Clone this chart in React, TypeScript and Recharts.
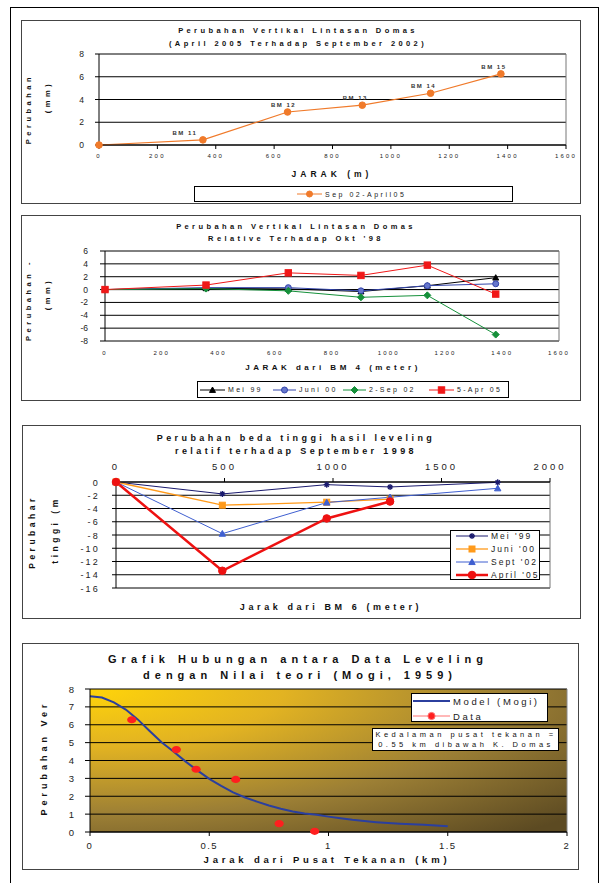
import React from 'react'
import {
  LineChart,
  Line,
  XAxis,
  YAxis,
  CartesianGrid,
  ReferenceLine,
  ComposedChart,
  Scatter,
  LabelList,
} from 'recharts'

const FONT = '"Liberation Sans", Arial, sans-serif'

// --- chart 1 : Sep 02 - April 05
const bmDistance = [0, 356, 646, 902, 1136, 1377]
const bmNames = ['', 'BM 11', 'BM 12', 'BM 13', 'BM 14', 'BM 15']
const sep02Apr05 = [0, 0.45, 2.9, 3.5, 4.55, 6.25]
const jarakTicks = [0, 200, 400, 600, 800, 1000, 1200, 1400, 1600]
const mmTicks1 = [0, 2, 4, 6, 8]

// --- chart 2 : relative to Okt '98
const mei99 = [0, 0.2, 0.1, -0.3, 0.6, 1.85]
const juni00 = [0, 0.3, 0.3, -0.2, 0.6, 0.9]
const sep02 = [0, 0.15, -0.2, -1.2, -0.9, -7.0]
const apr05 = [0, 0.7, 2.6, 2.2, 3.8, -0.7]
const mmTicks2 = [-8, -6, -4, -2, 0, 2, 4, 6]

// --- chart 3 : relative to September 1998
const bm6Distance = [0, 490, 971, 1263, 1759]
const mei99b = [0, -1.8, -0.4, -0.75, -0.05]
const juni00b = [0, -3.5, -3.05, -2.6, null]
const sept02b = [0, -7.8, -3.1, -2.3, -0.95]
const april05b = [0, -13.4, -5.5, -2.95, null]
const bm6Ticks = [0, 500, 1000, 1500, 2000]
const tinggiTicks = [0, -2, -4, -6, -8, -10, -12, -14, -16]

// --- chart 4 : Mogi model vs data
const modelX = [0, 0.05, 0.1, 0.15, 0.2, 0.25, 0.3, 0.35, 0.4, 0.45, 0.5, 0.55, 0.6, 0.65, 0.7, 0.75, 0.8, 0.85, 0.9, 0.95, 1.0, 1.05, 1.1, 1.15, 1.2, 1.25, 1.3, 1.35, 1.4, 1.45, 1.5]
const modelY = [7.59, 7.52, 7.25, 6.85, 6.3, 5.65, 5.02, 4.5, 3.95, 3.45, 2.97, 2.58, 2.22, 1.93, 1.7, 1.48, 1.3, 1.15, 1.04, 0.96, 0.86, 0.77, 0.68, 0.61, 0.55, 0.5, 0.46, 0.43, 0.4, 0.36, 0.32]
const levelX = [0.175, 0.362, 0.445, 0.611, 0.793, 0.942]
const levelY = [6.28, 4.61, 3.51, 2.94, 0.47, 0.04]
const kmTicks = [0, 0.5, 1, 1.5, 2]
const verTicks = [0, 1, 2, 3, 4, 5, 6, 7, 8]

const rows1 = bmDistance.map((x, i) => ({ x, v: sep02Apr05[i], name: bmNames[i] }))
const rows2 = bmDistance.map((x, i) => ({ x, mei: mei99[i], juni: juni00[i], sep: sep02[i], apr: apr05[i] }))
const rows3 = bm6Distance.map((x, i) => ({ x, mei: mei99b[i], juni: juni00b[i], sept: sept02b[i], april: april05b[i] }))
const modelRows = modelX.map((x, i) => ({ x, y: modelY[i] }))
const levelRows = levelX.map((x, i) => ({ x, y: levelY[i] }))

type Shape = 'circle' | 'square' | 'triangle' | 'diamond' | 'star'

function Marker({ cx, cy, shape, color, r, fill }: { cx: number; cy: number; shape: Shape; color: string; r: number; fill?: string }) {
  const f = fill ?? color
  if (shape === 'square') return <rect x={cx - r} y={cy - r} width={r * 2} height={r * 2} fill={f} stroke={color} />
  if (shape === 'triangle')
    return <path d={`M${cx},${cy - r} L${cx + r},${cy + r * 0.8} L${cx - r},${cy + r * 0.8} Z`} fill={f} stroke={color} />
  if (shape === 'diamond')
    return <path d={`M${cx},${cy - r} L${cx + r},${cy} L${cx},${cy + r} L${cx - r},${cy} Z`} fill={f} stroke={color} />
  if (shape === 'star')
    return (
      <path
        d={`M${cx - r},${cy} L${cx + r},${cy} M${cx},${cy - r} L${cx},${cy + r} M${cx - r * 0.7},${cy - r * 0.7} L${cx + r * 0.7},${cy + r * 0.7} M${cx - r * 0.7},${cy + r * 0.7} L${cx + r * 0.7},${cy - r * 0.7}`}
        stroke={color}
        strokeWidth={1.3}
      />
    )
  return <circle cx={cx} cy={cy} r={r} fill={f} stroke={color} />
}

const dotOf = (shape: Shape, color: string, r: number, fill?: string) => (p: any) => {
  const k = `${shape}-${p.index}`
  if (p.cx == null || p.cy == null || p.value == null) return <g key={k} />
  return <Marker key={k} cx={p.cx} cy={p.cy} shape={shape} color={color} r={r} fill={fill} />
}

const tick = (size: number, sp: number, dy: number, anchor?: string) => (p: any) => (
  <text
    x={p.x}
    y={p.y}
    dy={dy}
    textAnchor={anchor ?? p.textAnchor}
    fontSize={size}
    fontFamily={FONT}
    fill="#222"
    style={{ letterSpacing: sp }}
  >
    {p.payload.value}
  </text>
)

function Txt({
  x,
  y,
  size = 8,
  bold = true,
  sp = 3,
  rot = false,
  children,
}: {
  x: number
  y: number
  size?: number
  bold?: boolean
  sp?: number
  rot?: boolean
  children: React.ReactNode
}) {
  return (
    <div
      style={{
        position: 'absolute',
        left: x,
        top: y,
        transform: `translate(-50%, -50%)${rot ? ' rotate(-90deg)' : ''}`,
        fontSize: size,
        fontWeight: bold ? 700 : 400,
        letterSpacing: sp,
        whiteSpace: 'nowrap',
        lineHeight: 1,
        color: '#111',
        fontFamily: FONT,
      }}
    >
      {children}
    </div>
  )
}

function Box({ l, t, w, h, border = '1px solid #444', bg }: { l: number; t: number; w: number; h: number; border?: string; bg?: string }) {
  return (
    <div style={{ position: 'absolute', left: l, top: t, width: w, height: h, border, boxSizing: 'border-box', background: bg }} />
  )
}

function Item({
  l,
  t,
  w,
  color,
  shape,
  r,
  sw = 1,
  fill,
  size,
  sp,
  label,
}: {
  l: number
  t: number
  w: number
  color: string
  shape?: Shape
  r?: number
  sw?: number
  fill?: string
  size: number
  sp: number
  label: string
}) {
  return (
    <div style={{ position: 'absolute', left: l, top: t - 6, height: 12, display: 'flex', alignItems: 'center', whiteSpace: 'nowrap' }}>
      <svg width={w} height={12} style={{ display: 'block' }}>
        <line x1={0} y1={6} x2={w} y2={6} stroke={color} strokeWidth={sw} />
        {shape && <Marker cx={w / 2} cy={6} shape={shape} color={color} r={r ?? 3} fill={fill} />}
      </svg>
      <span style={{ marginLeft: 3, fontSize: size, letterSpacing: sp, fontFamily: FONT, color: '#222' }}>{label}</span>
    </div>
  )
}

const ORANGE = '#F07A2A'

function BmLabel(p: any) {
  if (!p.value) return null
  const dx = p.value === 'BM 11' ? -18 : p.value === 'BM 12' ? -4 : -7
  return (
    <text x={p.x + dx} y={p.y - 5} textAnchor="middle" fontSize={6} fontWeight={700} fontFamily={FONT} fill="#333" style={{ letterSpacing: 1.5 }}>
      {p.value}
    </text>
  )
}

export default function App() {
  return (
    <div style={{ position: 'absolute', left: 0, top: 0, width: 603, height: 883, background: '#fff', overflow: 'hidden', fontFamily: FONT }}>
      <svg width={0} height={0} style={{ position: 'absolute' }}>
        <defs>
          <radialGradient id="mogiBg" cx="0" cy="0" r="1.35" fx="0" fy="0">
            <stop offset="0" stopColor="#FFD40A" />
            <stop offset="0.3" stopColor="#E2B322" />
            <stop offset="0.65" stopColor="#9C7F35" />
            <stop offset="1" stopColor="#5C4A22" />
          </radialGradient>
        </defs>
      </svg>

      <Box l={10} t={7} w={589} h={900} border="1px solid #000" />
      <Box l={21} t={20} w={560} h={184} />
      <Box l={21} t={215} w={560} h={186} />
      <Box l={22} t={425} w={559} h={194} />
      <Box l={22} t={643} w={557} h={227} />

      {/* chart 1 */}
      <div style={{ position: 'absolute', left: 0, top: 20 }}>
        <LineChart width={603} height={184} data={rows1} margin={{ top: 34, right: 37, bottom: 39, left: 79 }}>
          <CartesianGrid vertical={false} stroke="#000" />
          <XAxis
            dataKey="x"
            type="number"
            domain={[0, 1600]}
            ticks={jarakTicks}
            interval={0}
            height={20}
            stroke="#000"
            tickSize={4}
            tickMargin={3}
            tick={tick(6, 2.2, 6, 'middle')}
          />
          <YAxis domain={[0, 8]} ticks={mmTicks1} interval={0} width={20} stroke="#000" tickSize={4} tickMargin={11} tick={tick(8.5, 0, 3, 'end')} />
          <ReferenceLine x={1600} stroke="#777" />
          <Line dataKey="v" stroke={ORANGE} strokeWidth={1.2} dot={dotOf('circle', ORANGE, 3.3)} isAnimationActive={false}>
            <LabelList dataKey="name" content={BmLabel} />
          </Line>
        </LineChart>
      </div>
      <Txt x={298} y={31} size={7.5} sp={3.4}>Perubahan Vertikal Lintasan Domas</Txt>
      <Txt x={298} y={44} size={7.5} sp={3.4}>(April 2005 Terhadap September 2002)</Txt>
      <Txt x={29} y={109} size={7.5} sp={3.5} rot>Perubahan</Txt>
      <Txt x={48} y={97} size={7.5} sp={3.5} rot>(mm)</Txt>
      <Txt x={332} y={174} size={8.5} sp={4}>JARAK (m)</Txt>
      <Box l={194} t={186} w={319} h={16} border="1px solid #000" bg="#fff" />
      <Item l={297} t={194} w={25} color={ORANGE} shape="circle" r={3} size={7} sp={2.5} label="Sep 02-April05" />

      {/* chart 2 */}
      <div style={{ position: 'absolute', left: 0, top: 215 }}>
        <LineChart width={603} height={186} data={rows2} margin={{ top: 36, right: 44, bottom: 40, left: 80 }}>
          <CartesianGrid vertical={false} stroke="#000" />
          <XAxis
            dataKey="x"
            type="number"
            domain={[0, 1600]}
            ticks={jarakTicks}
            interval={0}
            height={20}
            axisLine={false}
            tickLine={false}
            tickSize={0}
            tickMargin={8}
            tick={tick(6, 2.2, 6, 'middle')}
          />
          <YAxis domain={[-8, 6]} ticks={mmTicks2} interval={0} width={25} stroke="#000" tickSize={5} tickMargin={12} tick={tick(8.5, 0, 3, 'end')} />
          <ReferenceLine y={0} stroke="#000" />
          <ReferenceLine x={1600} stroke="#777" />
          <Line dataKey="mei" stroke="#000" strokeWidth={1} dot={dotOf('triangle', '#000', 3)} isAnimationActive={false} />
          <Line dataKey="juni" stroke="#3344AA" strokeWidth={1} dot={dotOf('circle', '#3344AA', 3, '#6677CC')} isAnimationActive={false} />
          <Line dataKey="sep" stroke="#15903A" strokeWidth={1} dot={dotOf('diamond', '#15903A', 3.5)} isAnimationActive={false} />
          <Line dataKey="apr" stroke="#F01818" strokeWidth={1} dot={dotOf('square', '#F01818', 3.2)} isAnimationActive={false} />
        </LineChart>
      </div>
      <Txt x={296} y={227} size={7.5} sp={3.4}>Perubahan Vertikal Lintasan Domas</Txt>
      <Txt x={296} y={239} size={7.5} sp={3.4}>Relative Terhadap Okt '98</Txt>
      <Txt x={29} y={300} size={7.5} sp={3.5} rot>Perubahan -</Txt>
      <Txt x={48} y={294} size={7.5} sp={3.5} rot>(mm)</Txt>
      <Txt x={333} y={368} size={8} sp={3.5}>JARAK dari BM 4 (meter)</Txt>
      <Box l={197} t={381} w={312} h={17} border="1.5px solid #000" bg="#fff" />
      <Item l={200} t={389.5} w={25} color="#000" shape="triangle" r={3} size={7} sp={2.3} label="Mei 99" />
      <Item l={273} t={389.5} w={23} color="#3344AA" shape="circle" r={3} fill="#6677CC" size={7} sp={2.3} label="Juni 00" />
      <Item l={343} t={389.5} w={23} color="#15903A" shape="diamond" r={3.5} size={7} sp={2.3} label="2-Sep 02" />
      <Item l={429} t={389.5} w={25} color="#F01818" shape="square" r={3.2} size={7} sp={2.3} label="5-Apr 05" />

      {/* chart 3 */}
      <div style={{ position: 'absolute', left: 0, top: 425 }}>
        <LineChart width={603} height={194} data={rows3} margin={{ top: 35, right: 53, bottom: 31, left: 86 }}>
          <CartesianGrid vertical={false} stroke="#000" />
          <XAxis
            dataKey="x"
            type="number"
            orientation="top"
            domain={[0, 2000]}
            ticks={bm6Ticks}
            interval={0}
            height={22}
            stroke="#000"
            tickSize={4}
            tickMargin={8}
            tick={tick(9.5, 3, 0, 'middle')}
          />
          <YAxis domain={[-16, 0]} ticks={tinggiTicks} interval={0} width={30} stroke="#000" tickSize={4} tickMargin={12} tick={tick(9, 2.2, 3.5, 'end')} />
          <ReferenceLine x={2000} stroke="#777" />
          <Line dataKey="mei" stroke="#1A1A6E" strokeWidth={1} dot={dotOf('star', '#1A1A6E', 3)} isAnimationActive={false} />
          <Line dataKey="juni" stroke="#FF9A1A" strokeWidth={1.3} dot={dotOf('square', '#FF9A1A', 3)} isAnimationActive={false} />
          <Line dataKey="sept" stroke="#3F5FD0" strokeWidth={1} dot={dotOf('triangle', '#3F5FD0', 3.2)} isAnimationActive={false} />
          <Line dataKey="april" stroke="#EE1111" strokeWidth={2.5} dot={dotOf('circle', '#EE1111', 3.8)} isAnimationActive={false} />
        </LineChart>
      </div>
      <Txt x={296} y={438} size={9} sp={3.4}>Perubahan beda tinggi hasil leveling</Txt>
      <Txt x={296} y={451} size={9} sp={3.4}>relatif terhadap September 1998</Txt>
      <Txt x={32} y={532} size={8.5} sp={3.5} rot>Perubahar</Txt>
      <Txt x={55} y={530} size={8.5} sp={3.5} rot>tinggi (m</Txt>
      <Txt x={331} y={607} size={9} sp={3.6}>Jarak dari BM 6 (meter)</Txt>
      <Box l={450} t={530} w={90} h={50} border="1px solid #000" bg="#fff" />
      <Item l={456} t={536} w={32} color="#1A1A6E" shape="star" r={3} size={8.5} sp={2} label="Mei '99" />
      <Item l={456} t={549} w={32} color="#FF9A1A" shape="square" r={3} sw={1.3} size={8.5} sp={2} label="Juni '00" />
      <Item l={456} t={562} w={32} color="#3F5FD0" shape="triangle" r={3.2} size={8.5} sp={2} label="Sept '02" />
      <Item l={456} t={575} w={32} color="#EE1111" shape="circle" r={3.8} sw={2.5} size={8.5} sp={2} label="April '05" />

      {/* chart 4 */}
      <div style={{ position: 'absolute', left: 0, top: 643 }}>
        <ComposedChart width={603} height={227} margin={{ top: 46, right: 36, bottom: 18, left: 70 }}>
          <CartesianGrid vertical={false} stroke="#000" fill="url(#mogiBg)" fillOpacity={1} />
          <XAxis
            dataKey="x"
            type="number"
            domain={[0, 2]}
            ticks={kmTicks}
            interval={0}
            height={20}
            stroke="#000"
            tickSize={4}
            tickMargin={6}
            tick={tick(9.5, 1.5, 7, 'middle')}
          />
          <YAxis dataKey="y" domain={[0, 8]} ticks={verTicks} interval={0} width={20} stroke="#000" tickSize={5} tickMargin={11} tick={tick(9.5, 0, 3.5, 'end')} />
          <ReferenceLine x={2} stroke="#888" />
          <Line data={modelRows} dataKey="y" stroke="#2B3F9E" strokeWidth={2} dot={false} isAnimationActive={false} />
          <Scatter
            data={levelRows}
            dataKey="y"
            fill="#FF1F1F"
            shape={(p: any) => <ellipse cx={p.cx} cy={p.cy} rx={4.6} ry={3.6} fill="#FF1F1F" />}
            isAnimationActive={false}
          />
        </ComposedChart>
      </div>
      <Txt x={298} y={659} size={11} sp={5}>Grafik Hubungan antara Data Leveling</Txt>
      <Txt x={300} y={675} size={11} sp={5}>dengan Nilai teori (Mogi, 1959)</Txt>
      <Txt x={44} y={758} size={9} sp={4} rot>Perubahan Ver</Txt>
      <Txt x={327} y={860} size={9.5} sp={3.8}>Jarak dari Pusat Tekanan (km)</Txt>
      <Box l={411} t={693} w={137} h={29} border="1.5px solid #000" bg="#fff" />
      <Item l={413} t={701} w={37} color="#2B3F9E" sw={2} size={9.5} sp={2.6} label="Model (Mogi)" />
      <Item l={413} t={716} w={37} color="#FF7070" shape="circle" r={3.6} fill="#FF1F1F" size={9.5} sp={2.6} label="Data" />
      <Box l={372} t={728} w={187} h={23} border="1.5px solid #000" bg="#fff" />
      <Txt x={466} y={735} size={7.5} bold={false} sp={3.5}>Kedalaman pusat tekanan =</Txt>
      <Txt x={466} y={745} size={7.5} bold={false} sp={3.5}>0.55 km dibawah K. Domas</Txt>
    </div>
  )
}
